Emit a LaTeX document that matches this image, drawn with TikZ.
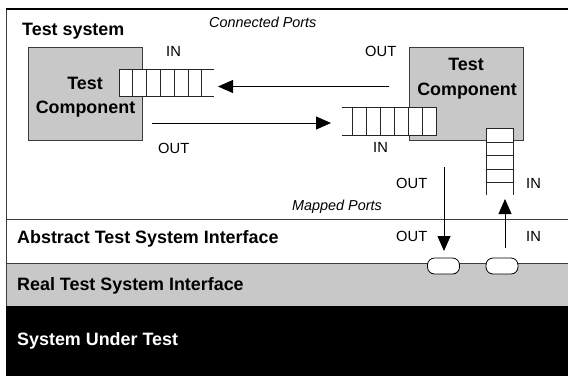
\documentclass[tikz,border=0pt]{standalone}
\usepackage{fontspec}
\setmainfont{Liberation Sans}
\usetikzlibrary{arrows.meta}
\definecolor{boxgray}{RGB}{200,200,200}
\definecolor{edge}{RGB}{60,60,60}

\begin{document}
\begin{tikzpicture}[x=1pt,y=-1pt,
  frameline/.style={draw=edge, line width=0.8pt},
  comp/.style={draw=edge, fill=boxgray, line width=0.9pt, inner sep=0pt,
    minimum width=114pt, minimum height=93pt, anchor=north west},
  qbox/.style={fill=white, inner sep=0pt, anchor=north west},
  cell/.style={draw=black!85, line width=0.8pt},
  arr/.style={draw=black, line width=0.8pt, -{Triangle[length=15pt,width=13pt]}},
  bold/.style={font=\fontsize{17.9}{20}\selectfont\bfseries, inner sep=0pt},
  port/.style={font=\fontsize{14.7}{16}\selectfont, inner sep=0pt, anchor=base west},
  note/.style={font=\fontsize{14.4}{16}\selectfont\itshape, inner sep=0pt, anchor=base west},
  band/.style={bold, anchor=base west},
  plug/.style={draw=black, fill=white, line width=0.8pt, rounded corners=7pt,
    minimum width=32pt, minimum height=16pt, inner sep=0pt}
]
\useasboundingbox (0,0) rectangle (568,376);

% interface bands
\fill[boxgray] (6,263.5) rectangle (568,305.5);
\fill[black] (6,305.5) rectangle (568,376);
\draw[frameline] (6,219.5) -- (568,219.5);
\draw[frameline] (6,263.5) -- (568,263.5);
\draw[frameline] (6,305.5) -- (6,9);
\draw[line width=1.5pt] (6,9) -- (568,9);

% test components
\node[comp] (tcL) at (28,47) {};
\node[comp] (tcR) at (409,47) {};
\node[bold, anchor=base] (tcLa) at (85,89) {Test};
\node[bold, anchor=base] (tcLb) at (85.5,113) {Component};
\node[bold, anchor=base] (tcRa) at (466,70) {Test};
\node[bold, anchor=base] (tcRb) at (467,95) {Component};

% IN queue of the left component (open to the right)
\node[qbox, minimum width=95pt, minimum height=27pt] (qL) at (119,69) {};
\draw[cell] (qL.north east) -- (qL.north west) -- (qL.south west) -- (qL.south east);
\foreach \x in {132.8,146.6,160.4,174.2,188,201.8}
  \draw[cell] (\x,69) -- (\x,96);

% IN queue of the right component (open to the left)
\node[qbox, minimum width=94.5pt, minimum height=28pt] (qR) at (341.5,107) {};
\draw[cell] (qR.north west) -- (qR.north east) -- (qR.south east) -- (qR.south west);
\foreach \x in {352.6,366.5,380.4,394.3,408.2,422.1}
  \draw[cell] (\x,107) -- (\x,135);

% vertical IN queue (open downwards)
\node[qbox, minimum width=27pt, minimum height=66.5pt] (qV) at (486.3,128.5) {};
\draw[cell] (qV.south west) -- (qV.north west) -- (qV.north east) -- (qV.south east);
\foreach \y in {142,155.5,169,182.5}
  \draw[cell] (486.3,\y) -- (513.3,\y);

% plugs on the real interface
\node[plug] (plugOut) at (443.5,266) {};
\node[plug] (plugIn) at (502,266) {};

% connected ports
\coordinate (cOutR) at (389,86.5);
\coordinate (cInL) at (218,86.5);
\coordinate (cOutL) at (152,123);
\coordinate (cInR) at (331,123);
\draw[arr] (cOutR) -- (cInL);
\draw[arr] (cOutL) -- (cInR);

% mapped ports
\coordinate (mOut) at (444,167);
\coordinate (mOutTip) at (444,251);
\coordinate (mIn) at (505,248);
\coordinate (mInTip) at (505,199);
\draw[arr] (mOut) -- (mOutTip);
\draw[arr] (mIn) -- (mInTip);

% labels
\node[bold, anchor=base west] (ts) at (22,35) {Test system};
\node[note] (cp) at (209,27) {Connected Ports};
\node[note] (mp) at (292,210) {Mapped Ports};
\node[port] (l1) at (166,56) {IN};
\node[port] (l2) at (158,153) {OUT};
\node[port] (l3) at (365,56) {OUT};
\node[port] (l4) at (373,152) {IN};
\node[port] (l5) at (396,188) {OUT};
\node[port] (l6) at (526,188) {IN};
\node[port] (l7) at (396,241) {OUT};
\node[port] (l8) at (526,241) {IN};

\node[band] (ati) at (17,243) {Abstract Test System Interface};
\node[band] (rti) at (17,290) {Real Test System Interface};
\node[band, text=white] (sut) at (17,345) {System Under Test};
\end{tikzpicture}
\end{document}
